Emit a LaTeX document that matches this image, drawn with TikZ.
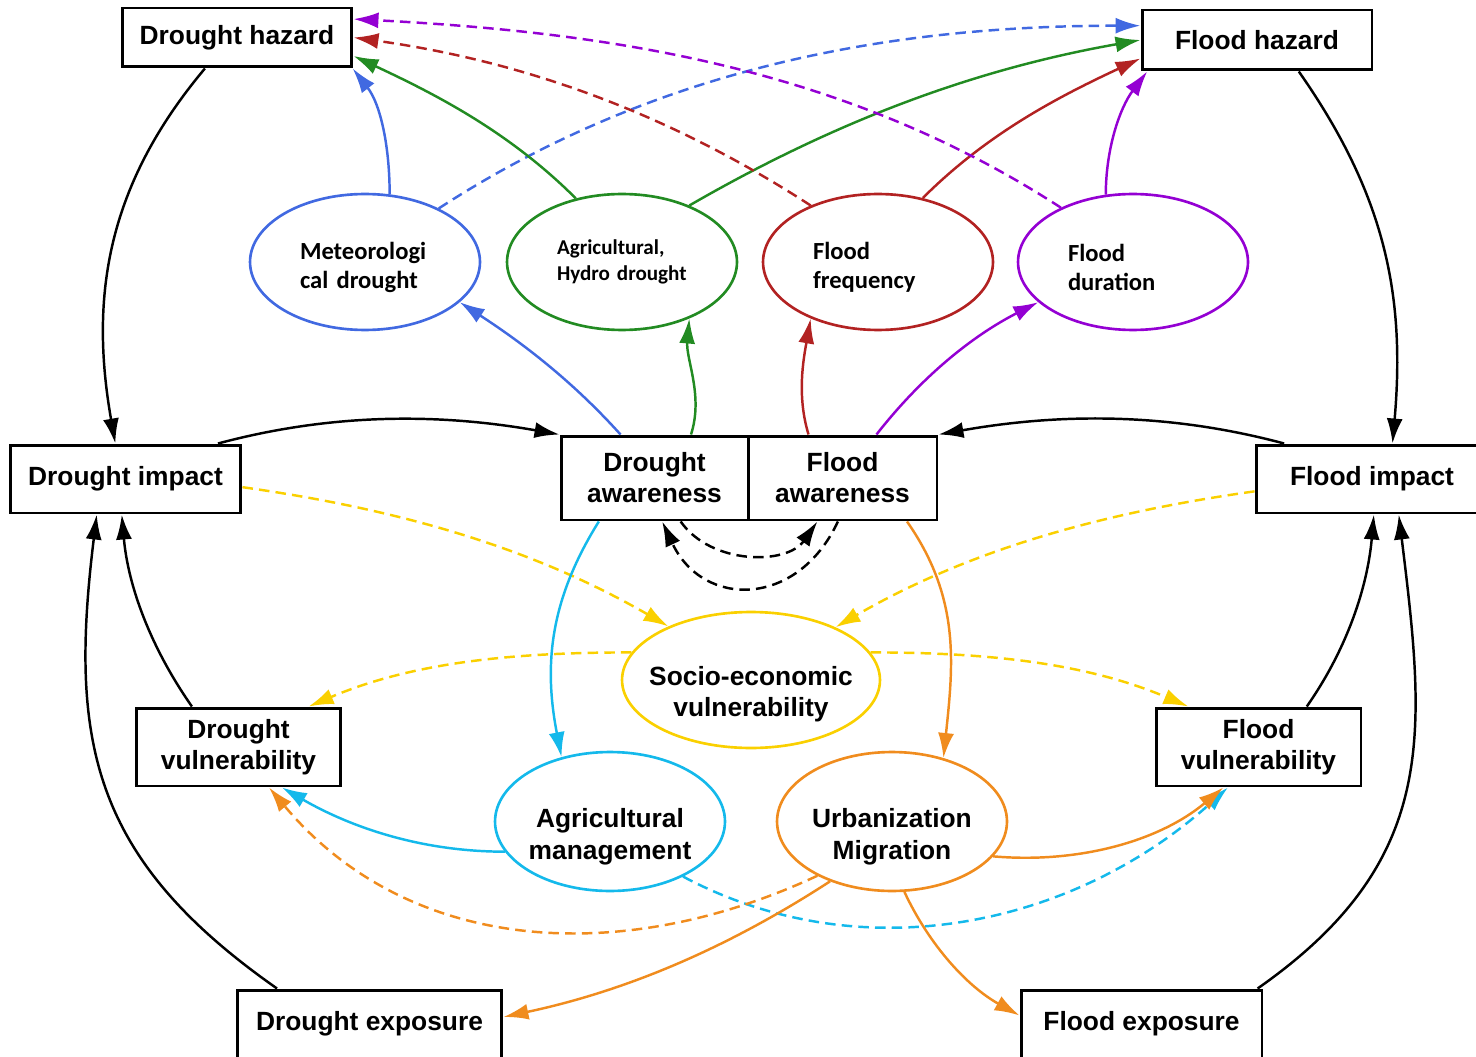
\documentclass[tikz,border=0pt]{standalone}
\usepackage{fontspec}
\setsansfont{Liberation Sans}
\newfontfamily\calfont{Carlito}
\usetikzlibrary{shapes.geometric,arrows.meta}

\definecolor{metblue}{RGB}{65,105,225}
\definecolor{hydgreen}{RGB}{34,139,34}
\definecolor{freqred}{RGB}{178,34,34}
\definecolor{durpurple}{RGB}{148,0,211}
\definecolor{socyellow}{RGB}{250,208,0}
\definecolor{agcyan}{RGB}{20,185,235}
\definecolor{urborange}{RGB}{240,140,30}

\begin{document}
\begin{tikzpicture}[x=0.02cm, y=-0.02cm,
		box/.style={draw, line width=1.7pt, inner sep=0pt, align=center,
			font=\sffamily\bfseries\fontsize{15}{17.6}\selectfont},
		ell/.style={ellipse, draw, line width=1.5pt, inner sep=0pt,
			minimum width=4.6cm, minimum height=2.72cm},
		toptext/.style={font=\calfont\bfseries\fontsize{14}{16.5}\selectfont,
			align=left, text width=2.6cm},
		lowtext/.style={font=\sffamily\bfseries\fontsize{15}{18}\selectfont, align=center},
		link/.style={line width=1.4pt, looseness=0.9, -{Latex[length=0.5cm,width=0.32cm]}},
		dashlink/.style={link, dash pattern=on 6pt off 3.5pt}]

		\useasboundingbox (0,0) rectangle (1476,1057);

		% Hazards
		\node[box, minimum width=4.6cm, minimum height=1.18cm] (dhaz) at (237,37.5) {Drought hazard};
		\node[box, minimum width=4.6cm, minimum height=1.2cm] (fhaz) at (1257,40) {Flood hazard};

		% Drought and flood types
		\node[ell, draw=metblue] (meteo) at (365,262) {};
		\node[ell, draw=hydgreen] (agri) at (622,262) {};
		\node[ell, draw=freqred] (ffreq) at (878,262) {};
		\node[ell, draw=durpurple] (fdur) at (1133,262) {};
		\node[toptext] (meteo-t) at ([yshift=-0.1cm]meteo) {Meteorologi\\cal drought};
		\node[toptext, font=\calfont\bfseries\fontsize{12}{14.5}\selectfont] (agri-t) at (agri) {Agricultural,\\Hydro drought};
		\node[toptext] (ffreq-t) at ([yshift=-0.1cm]ffreq) {Flood\\frequency};
		\node[toptext] (fdur-t) at ([yshift=-0.1cm]fdur) {Flood\\duration};

		% Impacts and awareness
		\node[box, minimum width=4.62cm, minimum height=1.36cm] (dimp) at (125.5,479) {Drought impact};
		\node[box, minimum width=4.64cm, minimum height=1.36cm] (fimp) at (1372,479) {Flood impact};
		\node[box, minimum width=3.74cm, minimum height=1.68cm] (dawa) at (654.5,478) {Drought\\awareness};
		\node[box, minimum width=3.78cm, minimum height=1.68cm] (fawa) at (842.5,478) {Flood\\awareness};

		% Vulnerability
		\node[ell, draw=socyellow, minimum width=5.16cm] (socio) at (751,680) {};
		\node[lowtext] (socio-t) at ([yshift=-0.28cm]socio) {Socio-economic\\vulnerability};
		\node[box, minimum width=4.1cm, minimum height=1.56cm] (dvul) at (238.5,747) {Drought\\vulnerability};
		\node[box, minimum width=4.1cm, minimum height=1.56cm] (fvul) at (1258.5,747) {Flood\\vulnerability};
		\node[ell, draw=agcyan, minimum height=2.78cm] (agman) at (610,821.5) {};
		\node[lowtext] (agman-t) at ([yshift=-0.3cm]agman) {Agricultural\\management};
		\node[ell, draw=urborange, minimum height=2.78cm] (urban) at (892,821.5) {};
		\node[lowtext] (urban-t) at ([yshift=-0.3cm]urban) {Urbanization\\Migration};

		% Exposure
		\node[box, minimum width=5.3cm, minimum height=1.36cm] (dexp) at (369.5,1024) {Drought exposure};
		\node[box, minimum width=4.82cm, minimum height=1.36cm] (fexp) at (1141.5,1024) {Flood exposure};

		% Black loops
		\draw[link] (dhaz.224) to[out=230,in=100,looseness=1] (dimp.106);
		\draw[link] (fhaz.323) to[out=-55,in=85,looseness=1] (fimp.60);
		\draw[link] (dimp.21) to[out=15,in=170] (dawa.north west);
		\draw[link] (fimp.158) to[out=165,in=10] (fawa.north east);
		\draw[link] (dvul.139) to[out=125,in=-85] (dimp.264);
		\draw[link] (dexp.159) to[out=145,in=-97,looseness=1.15] (dimp.231);
		\draw[link] (fvul.40) to[out=55,in=-95] (fimp.273);
		\draw[link] (fexp.17) to[out=35,in=-83,looseness=1.15] (fimp.307);
		\draw[dashlink] (dawa.301) to[out=-55,in=-125,looseness=1] (fawa.240);
		\draw[dashlink] (fawa.264) to[out=-115,in=-65,looseness=1.4] (dawa.280);

		% Awareness to types, types to hazards
		\draw[link, metblue] (dawa.128) to[out=132,in=-33] (meteo.337);
		\draw[link, metblue] (meteo.70) to[out=90,in=-52] (dhaz.345);
		\draw[dashlink, metblue] (meteo.36) to[out=33,in=180] (fhaz.173);
		\draw[link, hydgreen] (dawa.50) to[out=72,in=-95] (agri.320);
		\draw[link, hydgreen] (agri.126) to[out=135,in=-25] (dhaz.351);
		\draw[link, hydgreen] (agri.40) to[out=30,in=190] (fhaz.west);
		\draw[link, freqred] (fawa.128) to[out=107,in=-100] (ffreq.220);
		\draw[dashlink, freqred] (ffreq.140) to[out=147,in=-8] (dhaz.east);
		\draw[link, freqred] (ffreq.55) to[out=45,in=205] (fhaz.189);
		\draw[link, durpurple] (fawa.52) to[out=52,in=207] (fdur.203);
		\draw[dashlink, durpurple] (fdur.143) to[out=147,in=-3] (dhaz.9);
		\draw[link, durpurple] (fdur.112) to[out=90,in=233] (fhaz.196);

		% Socio-economic vulnerability
		\draw[dashlink, socyellow] (dimp.356) to[out=-8,in=150] (socio.147);
		\draw[dashlink, socyellow] (fimp.186) to[out=188,in=30] (socio.32);
		\draw[dashlink, socyellow] (socio.167) to[out=180,in=23] (dvul.30);
		\draw[dashlink, socyellow] (socio.13) to[out=0,in=157] (fvul.150);

		% Agricultural management
		\draw[link, agcyan] (dawa.218) to[out=238,in=101,looseness=1] (agman.127);
		\draw[link, agcyan] (agman.196) to[out=180,in=-30] (dvul.317);
		\draw[dashlink, agcyan] (agman.323) to[out=-28,in=222,looseness=0.95] (fvul.233);

		% Urbanization, migration
		\draw[link, urborange] (fawa.326) to[out=-55,in=84,looseness=1] (urban.51);
		\draw[dashlink, urborange] (urban.216) to[out=205,in=-50,looseness=1] (dvul.307);
		\draw[link, urborange] (urban.341) to[out=-5,in=220] (fvul.229);
		\draw[link, urborange] (urban.224) to[out=213,in=12] (dexp.3);
		\draw[link, urborange] (urban.280) to[out=-65,in=151] (fexp.176);
	\end{tikzpicture}
\end{document}
